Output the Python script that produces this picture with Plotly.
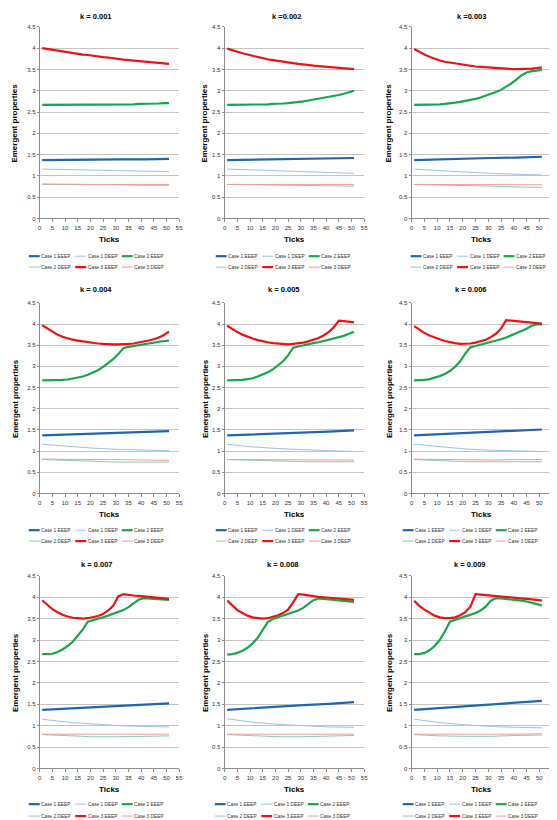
import plotly.graph_objects as go

# ---------------- data ----------------
TICKS = list(range(1, 52, 2))            # ticks 1,3,...,51
COARSE_TICKS = [1, 11, 21, 31, 41, 51]
X_TICK_VALUES = [0, 5, 10, 15, 20, 25, 30, 35, 40, 45, 50, 55]
Y_TICK_VALUES = [0, 0.5, 1, 1.5, 2, 2.5, 3, 3.5, 4, 4.5]
PANEL_TITLES = ["k = 0.001", "k =0.002", "k =0.003",
                "k = 0.004", "k = 0.005", "k = 0.006",
                "k = 0.007", "k = 0.008", "k = 0.009"]
SERIES_NAMES = ["Case 1 EEEP", "Case 1 DEEP", "Case 2 EEEP",
                "Case 2 DEEP", "Case 3 EEEP", "Case 3 DEEP"]

# Case 3 EEEP (red) at TICKS, one list per k
CASE3_EEEP = [
    [4.00, 3.98, 3.96, 3.94, 3.93, 3.91, 3.89, 3.87, 3.85, 3.84, 3.82, 3.81, 3.79, 3.78, 3.76, 3.75, 3.73, 3.72, 3.71, 3.69, 3.68, 3.67, 3.66, 3.65, 3.64, 3.63],
    [3.99, 3.95, 3.91, 3.88, 3.85, 3.82, 3.79, 3.76, 3.74, 3.72, 3.70, 3.68, 3.66, 3.65, 3.63, 3.62, 3.60, 3.59, 3.58, 3.57, 3.56, 3.55, 3.54, 3.53, 3.52, 3.51],
    [3.98, 3.91, 3.85, 3.80, 3.75, 3.71, 3.68, 3.66, 3.64, 3.62, 3.60, 3.58, 3.57, 3.56, 3.55, 3.54, 3.53, 3.52, 3.51, 3.51, 3.51, 3.51, 3.52, 3.52, 3.53, 3.55],
    [3.97, 3.89, 3.81, 3.75, 3.70, 3.66, 3.63, 3.61, 3.59, 3.57, 3.55, 3.54, 3.53, 3.52, 3.52, 3.52, 3.52, 3.53, 3.54, 3.56, 3.58, 3.61, 3.64, 3.68, 3.74, 3.82],
    [3.96, 3.88, 3.81, 3.75, 3.70, 3.66, 3.62, 3.59, 3.57, 3.55, 3.54, 3.53, 3.52, 3.53, 3.54, 3.56, 3.59, 3.63, 3.67, 3.73, 3.81, 3.92, 4.08, 4.07, 4.06, 4.04],
    [3.95, 3.86, 3.79, 3.73, 3.68, 3.64, 3.60, 3.57, 3.55, 3.53, 3.53, 3.54, 3.56, 3.59, 3.63, 3.69, 3.77, 3.89, 4.09, 4.08, 4.07, 4.06, 4.05, 4.04, 4.02, 4.01],
    [3.93, 3.82, 3.72, 3.65, 3.59, 3.55, 3.52, 3.51, 3.50, 3.51, 3.53, 3.56, 3.61, 3.69, 3.80, 4.02, 4.07, 4.05, 4.04, 4.03, 4.02, 4.01, 4.00, 3.98, 3.97, 3.96],
    [3.92, 3.80, 3.70, 3.63, 3.57, 3.53, 3.51, 3.50, 3.51, 3.54, 3.58, 3.63, 3.71, 3.88, 4.07, 4.06, 4.04, 4.02, 4.01, 4.00, 3.99, 3.98, 3.97, 3.96, 3.95, 3.94],
    [3.92, 3.80, 3.71, 3.63, 3.57, 3.53, 3.51, 3.51, 3.53, 3.58, 3.65, 3.78, 4.07, 4.06, 4.05, 4.04, 4.03, 4.02, 4.01, 4.00, 3.99, 3.98, 3.97, 3.96, 3.94, 3.92],
]

# Case 2 EEEP (green) at TICKS
CASE2_EEEP = [
    [2.67, 2.67, 2.67, 2.67, 2.67, 2.67, 2.67, 2.67, 2.67, 2.67, 2.67, 2.67, 2.67, 2.67, 2.67, 2.67, 2.68, 2.68, 2.68, 2.69, 2.69, 2.69, 2.70, 2.70, 2.71, 2.71],
    [2.67, 2.67, 2.67, 2.67, 2.67, 2.67, 2.67, 2.68, 2.68, 2.69, 2.69, 2.70, 2.71, 2.72, 2.74, 2.75, 2.77, 2.79, 2.81, 2.83, 2.85, 2.87, 2.90, 2.93, 2.96, 3.00],
    [2.67, 2.67, 2.67, 2.67, 2.67, 2.68, 2.69, 2.70, 2.72, 2.74, 2.76, 2.78, 2.81, 2.84, 2.88, 2.92, 2.97, 3.02, 3.09, 3.17, 3.26, 3.36, 3.43, 3.46, 3.47, 3.49],
    [2.67, 2.67, 2.67, 2.67, 2.68, 2.69, 2.71, 2.73, 2.76, 2.80, 2.85, 2.91, 2.99, 3.07, 3.17, 3.29, 3.43, 3.46, 3.48, 3.51, 3.53, 3.55, 3.57, 3.58, 3.60, 3.61],
    [2.67, 2.67, 2.67, 2.68, 2.70, 2.72, 2.76, 2.81, 2.86, 2.93, 3.02, 3.12, 3.26, 3.44, 3.47, 3.50, 3.53, 3.55, 3.57, 3.60, 3.62, 3.65, 3.68, 3.72, 3.77, 3.82],
    [2.67, 2.67, 2.68, 2.70, 2.73, 2.77, 2.82, 2.89, 2.99, 3.12, 3.30, 3.45, 3.48, 3.51, 3.54, 3.57, 3.60, 3.64, 3.68, 3.73, 3.78, 3.83, 3.89, 3.96, 3.99, 3.99],
    [2.67, 2.67, 2.68, 2.72, 2.78, 2.86, 2.96, 3.10, 3.25, 3.43, 3.47, 3.50, 3.53, 3.57, 3.61, 3.65, 3.70, 3.77, 3.85, 3.94, 3.98, 3.97, 3.96, 3.95, 3.95, 3.94],
    [2.66, 2.67, 2.70, 2.75, 2.82, 2.92, 3.05, 3.22, 3.42, 3.49, 3.53, 3.56, 3.60, 3.64, 3.69, 3.75, 3.83, 3.93, 3.97, 3.96, 3.95, 3.94, 3.92, 3.91, 3.90, 3.89],
    [2.67, 2.67, 2.70, 2.76, 2.86, 3.00, 3.20, 3.43, 3.47, 3.51, 3.55, 3.59, 3.63, 3.69, 3.78, 3.92, 3.98, 3.97, 3.96, 3.95, 3.94, 3.92, 3.90, 3.87, 3.84, 3.81],
]

# Slow series at COARSE_TICKS
CASE1_EEEP = [
    [1.37, 1.38, 1.38, 1.39, 1.39, 1.40],
    [1.37, 1.38, 1.39, 1.40, 1.41, 1.42],
    [1.37, 1.39, 1.40, 1.42, 1.43, 1.45],
    [1.37, 1.39, 1.41, 1.43, 1.45, 1.47],
    [1.37, 1.39, 1.42, 1.44, 1.46, 1.49],
    [1.37, 1.40, 1.43, 1.45, 1.48, 1.51],
    [1.37, 1.40, 1.43, 1.46, 1.49, 1.52],
    [1.37, 1.41, 1.44, 1.48, 1.51, 1.55],
    [1.37, 1.41, 1.45, 1.49, 1.53, 1.58],
]
CASE1_DEEP = [
    [1.16, 1.15, 1.14, 1.12, 1.11, 1.10],
    [1.16, 1.14, 1.11, 1.09, 1.07, 1.06],
    [1.16, 1.12, 1.09, 1.06, 1.04, 1.02],
    [1.16, 1.11, 1.07, 1.04, 1.02, 1.01],
    [1.16, 1.10, 1.06, 1.03, 1.01, 0.99],
    [1.16, 1.10, 1.05, 1.02, 1.00, 0.99],
    [1.15, 1.08, 1.04, 1.00, 0.98, 0.97],
    [1.16, 1.08, 1.03, 1.00, 0.97, 0.96],
    [1.15, 1.07, 1.02, 0.98, 0.96, 0.95],
]
CASE2_DEEP = [
    [0.80, 0.80, 0.79, 0.79, 0.78, 0.78],
    [0.80, 0.79, 0.79, 0.78, 0.77, 0.76],
    [0.80, 0.79, 0.77, 0.76, 0.74, 0.73],
    [0.80, 0.78, 0.76, 0.74, 0.74, 0.74],
    [0.80, 0.78, 0.76, 0.75, 0.75, 0.75],
    [0.80, 0.77, 0.75, 0.75, 0.75, 0.75],
    [0.79, 0.76, 0.74, 0.74, 0.75, 0.76],
    [0.79, 0.76, 0.74, 0.74, 0.76, 0.77],
    [0.79, 0.76, 0.75, 0.75, 0.77, 0.78],
]
CASE3_DEEP = [
    [0.81, 0.80, 0.80, 0.80, 0.80, 0.80],
    [0.80, 0.80, 0.80, 0.80, 0.80, 0.80],
    [0.80, 0.80, 0.80, 0.80, 0.79, 0.79],
    [0.81, 0.80, 0.80, 0.80, 0.79, 0.78],
    [0.80, 0.80, 0.79, 0.79, 0.79, 0.79],
    [0.81, 0.80, 0.80, 0.79, 0.80, 0.80],
    [0.80, 0.80, 0.80, 0.80, 0.80, 0.80],
    [0.80, 0.80, 0.80, 0.80, 0.80, 0.80],
    [0.80, 0.80, 0.79, 0.79, 0.80, 0.81],
]

# ---------------- styles / layout ----------------
COLORS = ["#1f66b0", "#9cc3e5", "#17a64a", "#86cfae", "#ee1111", "#f29a9a"]
WIDTHS = [2.2, 1.0, 2.2, 1.0, 2.2, 1.0]
FONT = "Liberation Sans"
W, H = 557, 820
COL_X = [(30, 171), (217, 358), (406, 548)]
ROW_Y = [(16, 209), (294, 486), (569, 763)]
TITLE_POS = [(87, 6), (280, 6), (467, 6),
             (87, 281), (277, 281), (466, 281),
             (88, 558), (276, 558), (465, 558)]
YTITLE_X = [5, 197, 383]
LEG_X = [19, 208, 405, 19, 208, 397, 19, 207, 397]
LEG_DY = [(38, 49), (37, 48), (36, 48)]
LEG_PITCH = 47

def px(x):
    return x / W

def py(y):
    return 1 - y / H

fig = go.Figure()
annotations = []
shapes = []

for i in range(9):
    r, c = divmod(i, 3)
    sfx = "" if i == 0 else str(i + 1)
    xa, ya = "x" + sfx, "y" + sfx
    series = [
        (COARSE_TICKS, CASE1_EEEP[i]),
        (COARSE_TICKS, CASE1_DEEP[i]),
        (TICKS, CASE2_EEEP[i]),
        (COARSE_TICKS, CASE2_DEEP[i]),
        (TICKS, CASE3_EEEP[i]),
        (COARSE_TICKS, CASE3_DEEP[i]),
    ]
    for j, (xs, ys) in enumerate(series):
        fig.add_trace(go.Scatter(
            x=xs, y=ys, mode="lines", name=SERIES_NAMES[j],
            line=dict(color=COLORS[j], width=WIDTHS[j]),
            xaxis=xa, yaxis=ya, showlegend=False, hoverinfo="skip"))

    x0, x1 = COL_X[c]
    y0, y1 = ROW_Y[r]
    fig.layout["xaxis" + sfx] = dict(
        domain=[px(x0), px(x1)], range=[0, 55], tickvals=X_TICK_VALUES,
        showgrid=False, zeroline=False, showline=True, linecolor="#8c8c8c",
        linewidth=1, ticks="outside", ticklen=3, tickcolor="#8c8c8c",
        tickfont=dict(size=6, color="#333333", family=FONT), anchor=ya,
        fixedrange=True)
    fig.layout["yaxis" + sfx] = dict(
        domain=[py(y1), py(y0)], range=[0, 4.5], tickvals=Y_TICK_VALUES,
        showgrid=True, gridcolor="#c4c4c4", gridwidth=1.3, zeroline=False,
        showline=True, linecolor="#8c8c8c", linewidth=1, ticks="outside",
        ticklen=2, tickcolor="#8c8c8c",
        tickfont=dict(size=6, color="#333333", family=FONT), anchor=xa,
        fixedrange=True)

    tx, ty = TITLE_POS[i]
    annotations.append(dict(text="<b>%s</b>" % PANEL_TITLES[i], x=px(tx), y=py(ty),
                            xref="paper", yref="paper", showarrow=False,
                            xanchor="center", yanchor="middle",
                            font=dict(size=7.5, color="#000000", family=FONT)))
    annotations.append(dict(text="<b>Emergent properties</b>", x=px(YTITLE_X[c]),
                            y=py((y0 + y1) / 2), xref="paper", yref="paper",
                            showarrow=False, textangle=-90, xanchor="center",
                            yanchor="middle",
                            font=dict(size=8, color="#000000", family=FONT)))
    annotations.append(dict(text="<b>Ticks</b>", x=px((x0 + x1) / 2), y=py(y1 + 21),
                            xref="paper", yref="paper", showarrow=False,
                            xanchor="center", yanchor="middle",
                            font=dict(size=8, color="#000000", family=FONT)))
    # per-panel legend
    for j in range(6):
        lr, lc = divmod(j, 3)
        lx = LEG_X[i] + LEG_PITCH * lc
        ly = y1 + LEG_DY[r][lr]
        shapes.append(dict(type="line", xref="paper", yref="paper",
                           x0=px(lx), x1=px(lx + 11), y0=py(ly), y1=py(ly),
                           line=dict(color=COLORS[j], width=WIDTHS[j])))
        annotations.append(dict(text=SERIES_NAMES[j], x=px(lx + 11.5), y=py(ly),
                                xref="paper", yref="paper", showarrow=False,
                                xanchor="left", yanchor="middle", borderpad=0,
                                font=dict(size=4.8, color="#333333", family=FONT)))

fig.update_layout(
    width=W, height=H, margin=dict(l=0, r=0, t=0, b=0),
    paper_bgcolor="white", plot_bgcolor="white",
    font=dict(family=FONT, color="#333333"),
    annotations=annotations, shapes=shapes, showlegend=False)

fig.write_html("out.html")
